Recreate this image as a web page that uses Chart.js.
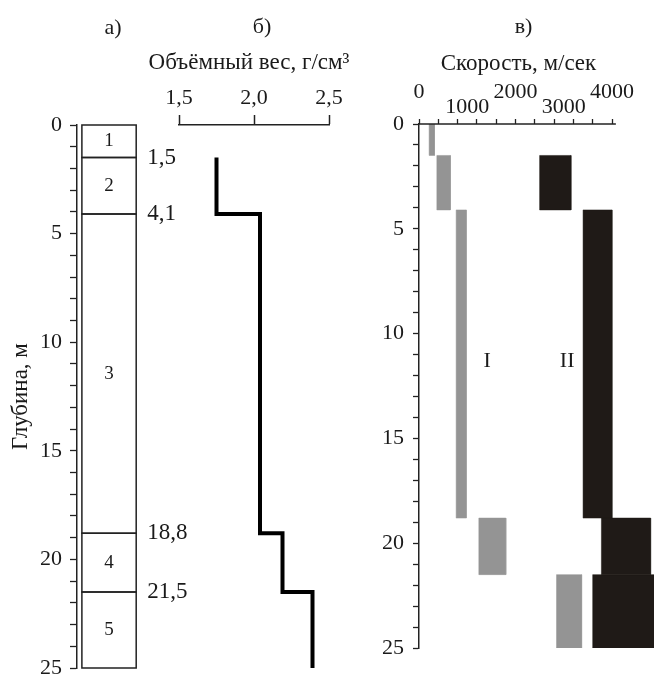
<!DOCTYPE html>
<html lang="ru">
<head>
<meta charset="utf-8">
<title>Разрез</title>
<script src="https://cdn.jsdelivr.net/npm/chart.js@4.4.0/dist/chart.umd.min.js"></script>
<style>
  html, body { margin: 0; padding: 0; background: #fff; }
  #wrap { position: relative; width: 654px; height: 675px; overflow: hidden; }
  #wrap canvas { position: absolute; left: 0; top: 0; }
</style>
</head>
<body>
<div id="wrap">
  <canvas id="column" width="654" height="675"></canvas>
  <canvas id="density" width="654" height="675"></canvas>
  <canvas id="velocity" width="654" height="675"></canvas>
</div>
<script>
// layer boundaries, m
const layerDepths = [0, 1.5, 4.1, 18.8, 21.5, 25];
const layerNames = ['1', '2', '3', '4', '5'];
const depthTickLabels = [0, 5, 10, 15, 20, 25];

// bulk density per layer, g/cm3 (layer 1 not measured)
const density = [null, 1.75, 2.04, 2.19, 2.39];
const densityTicks = [1.5, 2.0, 2.5];

// velocity ranges per layer, m/s
const velILow = [210, 370, 770, 1240, 2850];
const velIHigh = [320, 650, 980, 1800, 3370];
const velIILow = [null, 2500, 3400, 3780, 3600];
const velIIHigh = [null, 3150, 4000, 4800, 4900];
const velocityLabels = [0, 1000, 2000, 3000, 4000];

const serif = '"Liberation Serif", "Times New Roman", serif';
const ink = '#222';
const textColor = '#1a1a1a';
const grayFill = '#949494';
const blackFill = '#1f1a17';

Chart.defaults.font.family = serif;
Chart.defaults.font.size = 22;
Chart.defaults.color = textColor;
Chart.defaults.animation = false;
Chart.defaults.plugins.legend.display = false;
Chart.defaults.plugins.tooltip.enabled = false;

function commaNum(v, digits) {
    return v.toFixed(digits).replace('.', ',');
}

function rectPoints(x1, x2, y1, y2) {
    return [{x: x1, y: y1}, {x: x2, y: y1}, {x: x2, y: y2}, {x: x1, y: y2}, {x: x1, y: y1}];
}

// depth axis with a fixed width, no extra room for the end labels
function depthAxis(tickLength, padding, width, extra) {
    return Object.assign({
        type: 'linear',
        position: 'left',
        reverse: true,
        min: 0,
        max: 25,
        grid: {drawOnChartArea: false, tickLength: tickLength, tickColor: ink, tickWidth: 1.3},
        border: {color: ink, width: 1.5},
        ticks: {
            stepSize: 1,
            autoSkip: false,
            padding: padding,
            callback: v => depthTickLabels.includes(v) ? String(v) : ''
        },
        afterFit: s => {
            s.width = width;
            s.paddingTop = 0;
            s.paddingBottom = 0;
        }
    }, extra);
}

// а) layer column
const columnText = {
    id: 'columnText',
    afterDraw(chart) {
        const {ctx, scales: {x, y}} = chart;
        ctx.save();
        ctx.fillStyle = textColor;
        ctx.textBaseline = 'middle';
        ctx.textAlign = 'center';
        ctx.font = '19px ' + serif;
        layerNames.forEach((n, i) => {
            const mid = (layerDepths[i] + layerDepths[i + 1]) / 2;
            ctx.fillText(n, x.getPixelForValue(0.5), y.getPixelForValue(mid));
        });
        ctx.font = '23px ' + serif;
        ctx.textAlign = 'left';
        layerDepths.slice(1, -1).forEach(d => {
            ctx.fillText(commaNum(d, 1), x.getPixelForValue(1) + 11, y.getPixelForValue(d));
        });
        ctx.font = '22px ' + serif;
        ctx.textAlign = 'center';
        ctx.fillText('а)', x.getPixelForValue(0.5) + 4, chart.chartArea.top - 97);
        ctx.restore();
    }
};

const layerSets = layerNames.map((n, i) => ({
    data: rectPoints(0, 1, layerDepths[i], layerDepths[i + 1]),
    showLine: true,
    borderColor: ink,
    borderWidth: 1.5,
    borderCapStyle: 'square',
    pointRadius: 0,
    fill: false,
    clip: 4
}));

new Chart(document.getElementById('column'), {
    type: 'scatter',
    data: {datasets: layerSets},
    options: {
        responsive: false,
        layout: {padding: {left: 0, top: 125, right: 514, bottom: 7}},
        scales: {
            x: {display: false, min: -0.09, max: 1.07},
            y: depthAxis(7, 8, 77, {
                title: {display: true, text: 'Глубина, м', font: {size: 23}, padding: {top: 7}}
            })
        }
    },
    plugins: [columnText]
});

// б) density
const densityLine = [];
density.forEach((d, i) => {
    if (d === null) return;
    densityLine.push({x: d, y: layerDepths[i]}, {x: d, y: layerDepths[i + 1]});
});

const densityText = {
    id: 'densityText',
    afterDraw(chart) {
        const {ctx, chartArea} = chart;
        const mid = (chartArea.left + chartArea.right) / 2;
        ctx.save();
        ctx.fillStyle = textColor;
        ctx.textBaseline = 'middle';
        ctx.textAlign = 'center';
        ctx.font = '22px ' + serif;
        ctx.fillText('б)', mid + 8, chartArea.top - 98);
        // axis caption drawn here so it is not squeezed to the axis width
        ctx.font = '23px ' + serif;
        ctx.fillText('Объёмный вес, г/см³', mid - 5, chartArea.top - 62);
        ctx.restore();
    }
};

new Chart(document.getElementById('density'), {
    type: 'scatter',
    data: {
        datasets: [{
            data: densityLine,
            showLine: true,
            borderColor: '#000',
            borderWidth: 4,
            borderJoinStyle: 'miter',
            pointRadius: 0,
            clip: 4
        }]
    },
    options: {
        responsive: false,
        layout: {padding: {left: 179, top: 0, right: 325, bottom: 7}},
        scales: {
            x: {
                type: 'linear',
                position: 'top',
                min: 1.5,
                max: 2.5,
                afterBuildTicks: s => { s.ticks = densityTicks.map(v => ({value: v})); },
                grid: {drawOnChartArea: false, tickLength: 10, tickColor: ink, tickWidth: 1.5},
                border: {color: ink, width: 1.5},
                ticks: {padding: 4, maxRotation: 0, callback: v => commaNum(v, 1)},
                afterFit: s => { s.height = 125; }
            },
            y: {display: false, reverse: true, min: 0, max: 25}
        }
    },
    plugins: [densityText]
});

// в) velocity
function box(v1, v2, d1, d2, color) {
    return {
        data: rectPoints(v1, v2, d1, d2),
        showLine: true,
        fill: 'shape',
        backgroundColor: color,
        borderColor: color,
        borderWidth: 0.5,
        pointRadius: 0
    };
}

const velocitySets = [];
layerNames.forEach((n, i) => {
    const top = layerDepths[i], bottom = layerDepths[i + 1];
    velocitySets.push(box(velILow[i], velIHigh[i], top, bottom, grayFill));
    if (velIILow[i] !== null) {
        velocitySets.push(box(velIILow[i], velIIHigh[i], top, bottom, blackFill));
    }
});

function velocityLabel(v) {
    const i = velocityLabels.indexOf(v);
    if (i < 0) return '';
    return i % 2 === 0 ? [String(v), ''] : ['', String(v)];
}

const velocityText = {
    id: 'velocityText',
    afterDraw(chart) {
        const {ctx, chartArea, scales: {x, y}} = chart;
        const x0 = x.getPixelForValue(0);
        const x1 = x.getPixelForValue(4080);
        ctx.save();
        // top axis line, stops at the last tick
        ctx.strokeStyle = ink;
        ctx.lineWidth = 1.5;
        ctx.beginPath();
        ctx.moveTo(x0, chartArea.top);
        ctx.lineTo(x1, chartArea.top);
        ctx.stroke();

        ctx.fillStyle = textColor;
        ctx.textBaseline = 'middle';
        ctx.textAlign = 'center';
        const mid = (x0 + x.getPixelForValue(4000)) / 2;
        ctx.font = '23px ' + serif;
        ctx.fillText('Скорость, м/сек', mid + 3, chartArea.top - 60);
        ctx.font = '22px ' + serif;
        ctx.fillText('в)', mid + 8, chartArea.top - 97);
        ctx.fillText('I', x.getPixelForValue(1410), y.getPixelForValue(11.3));
        ctx.fillText('II', x.getPixelForValue(3070), y.getPixelForValue(11.3));
        ctx.restore();
    }
};

new Chart(document.getElementById('velocity'), {
    type: 'scatter',
    data: {datasets: velocitySets},
    options: {
        responsive: false,
        layout: {padding: {left: 370, top: 0, right: 0, bottom: 27}},
        scales: {
            x: {
                type: 'linear',
                position: 'top',
                min: 0,
                max: 4870,
                afterBuildTicks: s => { s.ticks = s.ticks.filter(t => t.value <= 4000); },
                grid: {
                    drawOnChartArea: false,
                    tickLength: 5,
                    tickWidth: 1.3,
                    tickColor: c => (c.tick && c.tick.value % 400 === 0) ? ink : 'rgba(0,0,0,0)'
                },
                border: {display: false},
                ticks: {
                    stepSize: 200,
                    autoSkip: false,
                    maxRotation: 0,
                    padding: 4,
                    font: {size: 22, lineHeight: 0.7},
                    callback: v => velocityLabel(v)
                },
                afterFit: s => { s.height = 124; }
            },
            y: depthAxis(6, 9, 49)
        }
    },
    plugins: [velocityText]
});
</script>
</body>
</html>
